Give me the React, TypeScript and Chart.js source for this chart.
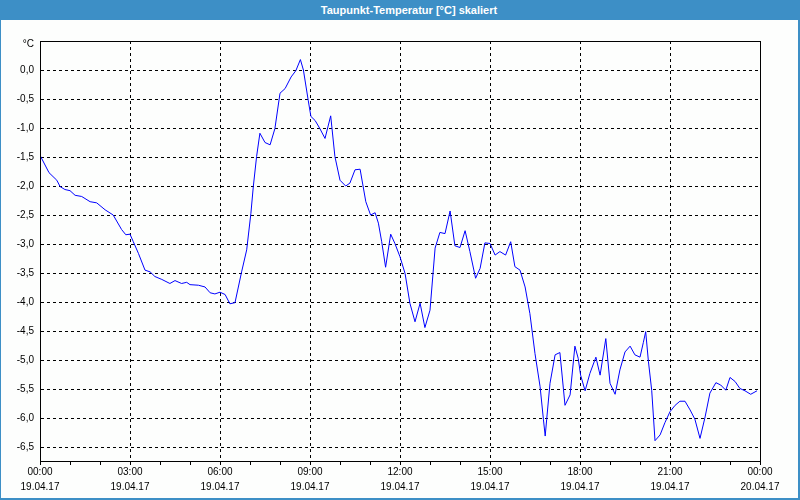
import { useEffect, useRef } from "react";
import { Chart, registerables } from "chart.js";

Chart.register(...registerables);

const chartTitle = "Taupunkt-Temperatur [°C] skaliert";
const unitLabel = "°C";

const hours = [
  0.0, 0.3, 0.56, 0.67, 0.83, 1.0, 1.17, 1.39, 1.67, 1.89, 2.17, 2.44, 2.72, 2.86, 3.0, 3.11, 3.28, 3.5, 3.67, 3.83,
  4.06, 4.33, 4.5, 4.72, 4.89, 5.0, 5.28, 5.5, 5.67, 5.83, 6.0, 6.17, 6.33, 6.5, 6.72, 6.89, 7.03, 7.11, 7.22, 7.33,
  7.5, 7.67, 7.83, 8.0, 8.17, 8.37, 8.53, 8.68, 8.78, 8.94, 9.03, 9.17, 9.33, 9.5, 9.69, 9.83, 10.0, 10.19, 10.33, 10.5,
  10.67, 10.86, 11.02, 11.17, 11.28, 11.39, 11.52, 11.69, 11.83, 12.0, 12.17, 12.33, 12.5, 12.67, 12.83, 13.0, 13.17, 13.33, 13.5, 13.67,
  13.83, 14.0, 14.17, 14.33, 14.52, 14.67, 14.83, 15.0, 15.17, 15.33, 15.52, 15.69, 15.83, 16.0, 16.17, 16.33, 16.5, 16.67, 16.78, 16.84,
  16.89, 17.0, 17.17, 17.33, 17.5, 17.67, 17.83, 17.94, 18.02, 18.17, 18.33, 18.53, 18.67, 18.86, 19.0, 19.17, 19.33, 19.5, 19.67, 19.83,
  20.0, 20.11, 20.19, 20.28, 20.39, 20.5, 20.67, 20.83, 21.0, 21.17, 21.33, 21.5, 21.67, 21.83, 22.0, 22.17, 22.33, 22.53, 22.69, 22.86,
  23.0, 23.17, 23.33, 23.5, 23.69, 23.9,
];

const dewPoint = [
  -1.47, -1.77, -1.9, -2.01, -2.06, -2.08, -2.16, -2.18, -2.27, -2.29, -2.41, -2.5, -2.75, -2.84, -2.83, -2.96, -3.16, -3.45, -3.48, -3.56,
  -3.61, -3.68, -3.63, -3.68, -3.66, -3.7, -3.71, -3.74, -3.84, -3.86, -3.83, -3.87, -4.03, -4.01, -3.48, -3.1, -2.47, -2.01, -1.49, -1.09,
  -1.25, -1.29, -1.01, -0.4, -0.32, -0.12, -0.01, 0.18, 0.0, -0.52, -0.8, -0.87, -1.01, -1.18, -0.79, -1.49, -1.9, -2.0, -1.95, -1.72,
  -1.71, -2.27, -2.5, -2.46, -2.64, -2.96, -3.4, -2.83, -2.99, -3.22, -3.51, -4.02, -4.34, -4.02, -4.44, -4.14, -3.07, -2.8, -2.82, -2.43,
  -3.03, -3.06, -2.77, -3.13, -3.59, -3.42, -2.98, -2.99, -3.19, -3.13, -3.19, -2.96, -3.39, -3.45, -3.74, -4.2, -4.89, -5.46, -6.02, -6.31,
  -6.02, -5.4, -4.91, -4.87, -5.78, -5.6, -4.76, -4.97, -5.26, -5.53, -5.23, -4.95, -5.26, -4.63, -5.4, -5.59, -5.17, -4.86, -4.76, -4.91,
  -4.95, -4.7, -4.51, -5.02, -5.52, -6.39, -6.29, -6.08, -5.89, -5.78, -5.71, -5.71, -5.86, -6.02, -6.35, -5.98, -5.57, -5.39, -5.43, -5.52,
  -5.3, -5.37, -5.49, -5.53, -5.59, -5.53,
];

const xTickTimes = ["00:00", "03:00", "06:00", "09:00", "12:00", "15:00", "18:00", "21:00", "00:00"];
const xTickDates = ["19.04.17", "19.04.17", "19.04.17", "19.04.17", "19.04.17", "19.04.17", "19.04.17", "19.04.17", "20.04.17"];
const yTickValues = [-6.5, -6.0, -5.5, -5.0, -4.5, -4.0, -3.5, -3.0, -2.5, -2.0, -1.5, -1.0, -0.5, 0.0];

const X_MIN = 0;
const X_MAX = 24;
const Y_MIN = -6.74;
const Y_MAX = 0.5;
const UNIT_POS = 0.45;
const FONT = "'Liberation Sans', Arial, sans-serif";

const framePlugin = {
  id: "frame",
  afterDraw(chart: any) {
    const { ctx, chartArea } = chart;
    ctx.save();
    ctx.strokeStyle = "#000";
    ctx.lineWidth = 1;
    ctx.setLineDash([]);
    ctx.strokeRect(
      Math.round(chartArea.left) + 0.5,
      Math.round(chartArea.top) + 0.5,
      Math.round(chartArea.right - chartArea.left),
      Math.round(chartArea.bottom - chartArea.top)
    );
    ctx.restore();
  },
};

export default function App() {
  const ref = useRef<HTMLCanvasElement>(null);

  useEffect(() => {
    if (!ref.current) return;
    const points = hours.map((h, i) => ({ x: h, y: dewPoint[i] }));
    const chart = new Chart(ref.current, {
      type: "line",
      data: {
        datasets: [
          {
            data: points,
            borderColor: "#0000ff",
            borderWidth: 1,
            pointRadius: 0,
            tension: 0,
            fill: false,
          },
        ],
      },
      options: {
        animation: false,
        responsive: false,
        events: [],
        layout: { padding: { left: 0, top: 41, right: 40, bottom: 0 } },
        plugins: { legend: { display: false }, tooltip: { enabled: false }, title: { display: false } },
        scales: {
          x: {
            type: "linear",
            min: X_MIN,
            max: X_MAX,
            afterFit(scale: any) {
              scale.height = 39;
            },
            afterBuildTicks(scale: any) {
              const t = [];
              for (let h = X_MIN; h <= X_MAX; h++) t.push({ value: h });
              scale.ticks = t;
            },
            ticks: {
              autoSkip: false,
              maxRotation: 0,
              minRotation: 0,
              padding: 0,
              color: "#000",
              font: { family: FONT, size: 10, lineHeight: 1.5 },
              callback(value: any) {
                const v = Number(value);
                if (v % 3 !== 0) return "";
                const i = v / 3;
                return [xTickTimes[i], xTickDates[i]];
              },
            },
            grid: {
              color: (ctx: any) => {
                const v = ctx.tick ? ctx.tick.value : -1;
                return v % 3 === 0 && v > X_MIN && v < X_MAX ? "#000" : "rgba(0,0,0,0)";
              },
              tickColor: "#000",
              tickLength: 4,
              tickBorderDash: [],
              lineWidth: 1,
              drawTicks: true,
            },
            border: { display: true, color: "#000", width: 1, dash: [3, 3] },
          },
          y: {
            type: "linear",
            min: Y_MIN,
            max: Y_MAX,
            afterFit(scale: any) {
              scale.width = 40;
            },
            afterBuildTicks(scale: any) {
              scale.ticks = [...yTickValues.map((v) => ({ value: v })), { value: UNIT_POS }];
            },
            ticks: {
              autoSkip: false,
              padding: 6,
              color: "#000",
              font: { family: FONT, size: 10 },
              callback(value: any) {
                const v = Number(value);
                if (Math.abs(v - UNIT_POS) < 1e-6) return unitLabel;
                return v.toFixed(1).replace(".", ",");
              },
            },
            grid: {
              color: (ctx: any) => {
                const v = ctx.tick ? ctx.tick.value : 99;
                return v <= 0.01 ? "#000" : "rgba(0,0,0,0)";
              },
              lineWidth: 1,
              drawTicks: false,
            },
            border: { display: true, color: "#000", width: 1, dash: [3, 3] },
          },
        },
      },
      plugins: [framePlugin],
    });
    return () => chart.destroy();
  }, []);

  return (
    <div
      style={{
        position: "absolute",
        left: 0,
        top: 0,
        width: 800,
        height: 500,
        background: "#3d8fc6",
        overflow: "hidden",
      }}
    >
      <div
        style={{
          position: "absolute",
          left: 18,
          top: 0,
          width: 782,
          height: 20,
          lineHeight: "20px",
          textAlign: "center",
          color: "#fff",
          fontFamily: FONT,
          fontWeight: "bold",
          fontSize: 11,
        }}
      >
        {chartTitle}
      </div>
      <div
        style={{
          position: "absolute",
          left: 1,
          top: 20,
          width: 797,
          height: 478,
          background: "#fdfefd",
        }}
      />
      <canvas ref={ref} width={800} height={500} style={{ position: "absolute", left: 0, top: 0 }} />
    </div>
  );
}
